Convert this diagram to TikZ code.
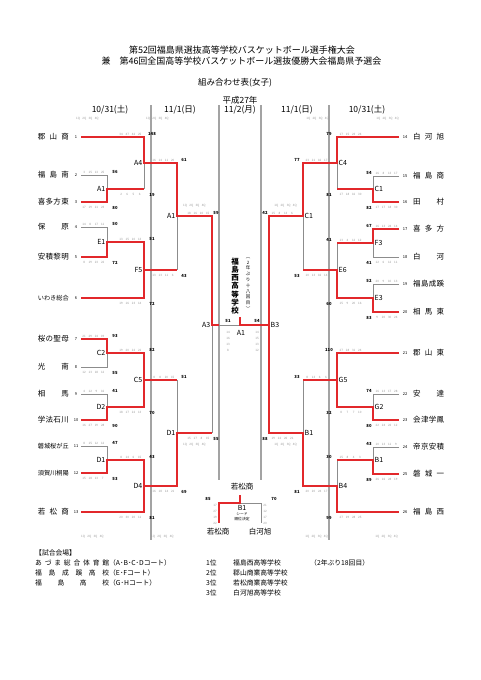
\documentclass[tikz,border=0pt]{standalone}
\usepackage{fontspec}
\setmainfont{Noto Sans CJK JP}
\usetikzlibrary{positioning}
\definecolor{wred}{HTML}{E2282B}
\definecolor{lgray}{HTML}{8C8C8C}
\definecolor{sgray}{HTML}{A3A3A3}
\definecolor{qgray}{HTML}{9A9A9A}
\newcommand\fsz[1]{\fontsize{#1}{#1}\selectfont}
\newcommand\qn[1]{\makebox[6.2pt]{#1}}
\def\qsplit#1 #2 #3 #4\relax{\qn{#1}\qn{#2}\qn{#3}\qn{#4}}
\newcommand\wbox[2][31pt]{\makebox[#1][s]{#2}}
\tikzset{
  win/.style={draw=wred,line width=1.6pt},
  lose/.style={draw=lgray,line width=1pt},
  sep/.style={draw=sgray,line width=1.3pt},
  team/.style={inner sep=0,font=\fsz{7.5}},
  seed/.style={inner sep=0,font=\fsz{4}},
  mlab/.style={inner sep=0,font=\fsz{7}},
  tot/.style={inner sep=0,font=\fsz{4.2}\bfseries},
  qt/.style={inner sep=0,font=\fsz{3},text=qgray},
  hd/.style={inner sep=0,font=\fsz{8.5}},
  lg/.style={inner sep=0,font=\fsz{6.8}}}

\begin{document}
\begin{tikzpicture}[x=1pt,y=-1pt]
\path[fill=white] (0,0) rectangle (481,680);
% titles
\node[font=\fsz{9}] (ttl1) at (242,50) {第52回福島県選抜高等学校バスケットボール選手権大会};
\node[font=\fsz{9}] (ttl2) at (241.5,61) {兼　第46回全国高等学校バスケットボール選抜優勝大会福島県予選会};
\node[font=\fsz{8.5}] (ttl3) at (235,83) {組み合わせ表(女子)};
\node[hd] (era) at (240,100) {平成27年};
\foreach \x/\d [count=\i] in {110/{10/31(土)},180/{11/1(日)},240/{11/2(月)},297/{11/1(日)},367/{10/31(土)}}
  \node[hd] (day\i) at (\x,110) {\d};
% column rules
\draw[sep] (151,105)--(151,540); \draw[sep] (219,105)--(219,480);
\draw[sep] (261,105)--(261,480); \draw[sep] (329,105)--(329,540);
% teams
\foreach \y/\nm [count=\i] in {137/{郡\hfill 山\hfill 商},175/{福\hfill 島\hfill 南},202/{喜\hfill 多\hfill 方\hfill 東},
  227/{保\hfill 原},257/{安\hfill 積\hfill 黎\hfill 明},298/{\fsz{6.2}い\hfill わ\hfill き\hfill 総\hfill 合},
  339/{桜\hfill の\hfill 聖\hfill 母},367/{光\hfill 南},394/{相\hfill 馬},420/{学\hfill 法\hfill 石\hfill 川},
  446/{\fsz{6.2}磐\hfill 城\hfill 桜\hfill が\hfill 丘},473/{\fsz{6.2}須\hfill 賀\hfill 川\hfill 桐\hfill 陽},512/{若\hfill 松\hfill 商}}
  {\node[team,anchor=east] (tl\i) at (69,\y) {\wbox{\nm}};
   \node[seed] (nl\i) at (76,\y) {\i};}
\foreach \y/\nm [count=\i from 14] in {137/{白\hfill 河\hfill 旭},176/{福\hfill 島\hfill 商},202/{田\hfill 村},
  229/{喜\hfill 多\hfill 方},257/{白\hfill 河},284/{福\hfill 島\hfill 成\hfill 蹊},312/{相\hfill 馬\hfill 東},
  353/{郡\hfill 山\hfill 東},394/{安\hfill 達},420/{会\hfill 津\hfill 学\hfill 鳳},447/{帝\hfill 京\hfill 安\hfill 積},
  474/{磐\hfill 城\hfill 一},512/{福\hfill 島\hfill 西}}
  {\node[team,anchor=west] (tr\i) at (413,\y) {\wbox{\nm}};
   \node[seed] (nr\i) at (405,\y) {\i};}
% losing lines
\draw[lose] (81,175)-|(107,189); \draw[lose] (81,227)-|(107,242); \draw[lose] (81,367)-|(107,353);
\draw[lose] (81,394)-|(107,407); \draw[lose] (81,446)-|(107,460);
\draw[lose] (144,163)--(144,189); \draw[lose] (177,216)--(177,270); \draw[lose] (177,380)--(177,433);
\draw[lose] (212,325)--(212,433); \draw[lose] (219,325)--(240,325);
\draw[lose] (399,176)-|(373,189); \draw[lose] (399,257)-|(373,243); \draw[lose] (399,284)-|(373,298);
\draw[lose] (399,394)-|(373,407); \draw[lose] (399,447)-|(373,460);
\draw[lose] (337,163)--(337,189); \draw[lose] (337,243)--(337,270); \draw[lose] (303,216)--(303,270);
\draw[lose] (303,380)--(303,433); \draw[lose] (337,460)--(337,486);
% winning lines
\draw[win] (81,137)--(144,137)--(144,163)--(177,163)--(177,216)--(212,216)--(212,325)--(219,325);
\draw[win] (81,202)-|(107,189)--(144,189);
\draw[win] (81,257)-|(107,242)--(144,242)|-(81,298); \draw[win] (144,270)--(177,270);
\draw[win] (81,339)-|(107,353)--(144,353)--(144,407)--(107,407)|-(81,420); \draw[win] (144,380)--(177,380);
\draw[win] (81,473)-|(107,460)--(144,460)|-(81,512); \draw[win] (144,486)--(177,486)--(177,433)--(212,433);
\draw[win] (399,137)--(337,137)--(337,163)--(303,163)--(303,216)--(269,216)--(269,433)--(303,433)--(303,486)--(337,486)--(337,512)--(399,512);
\draw[win] (240,317)--(240,325)--(269,325);
\draw[win] (399,202)-|(373,189)--(337,189);
\draw[win] (399,229)-|(373,243)--(337,243);
\draw[win] (399,312)-|(373,298)--(337,298)--(337,270)--(303,270);
\draw[win] (399,353)--(337,353)--(337,407)--(373,407)|-(399,420); \draw[win] (337,380)--(303,380);
\draw[win] (399,474)-|(373,460)--(337,460);
% match labels
\foreach \x/\y/\m [count=\i] in {107/189/A1,107/242/E1,107/353/C2,107/407/D2,107/460/D1,144/163/A4,144/270/F5,
  144/380/C5,144/486/D4,177/216/A1,177/433/D1,212/325/A3}
  \node[mlab,anchor=east] (ml\i) at (\x-1.5,\y) {\m};
\foreach \x/\y/\m [count=\i] in {373/189/C1,373/243/F3,373/298/E3,373/407/G2,373/460/B1,337/163/C4,337/270/E6,
  337/380/G5,337/486/B4,303/216/C1,303/433/B1,269/325/B3}
  \node[mlab,anchor=west] (mr\i) at (\x+1.5,\y) {\m};
\node[mlab] (fin) at (241,333) {A1};
% totals
\foreach \x/\y/\s [count=\i] in {115/172/56,115/207.5/80,115/224/50,115/262.5/72,115/336/93,115/372.5/55,
  115/391/41,115/425.5/90,115/443/47,115/478.5/53,152/134/148,152/194.5/19,152/239/51,152/303.5/72,
  152/350/82,152/412.5/70,152/457/43,152/517.5/81,184/160/61,184/275.5/43,184/377/51,184/491.5/69,
  216/213/59,216/438.5/55,228/321/51,257/321/54,
  369/173/54,369/207.5/82,369/226/67,369/262.5/41,369/281/52,369/317.5/83,369/391/74,369/425.5/80,
  369/444/43,369/479.5/89,329/134/79,329/194.5/81,329/240/41,329/303.5/60,329/350/110,329/412.5/32,
  329/457/30,329/517.5/99,297/160/77,297/275.5/53,297/377/33,297/491.5/81,265/213/42,265/438.5/88,
  208/499/85,274/499/70}
  \node[tot] (tot\i) at (\x,\y) {\s};
% quarter scores
\foreach \x/\y/\s [count=\i] in {106/172/3 15 13 25,106/207.5/17 19 21 23,106/224/14 8 17 11,
  106/262.5/8 19 23 22,106/336/21 29 24 19,106/372.5/12 13 18 12,106/391/4 12 9 16,106/425.5/16 27 19 28,
  106/443/8 15 12 12,106/478.5/15 18 13 7,143/134/34 47 42 25,143/194.5/2 6 5 6,143/239/13 15 10 13,
  143/303.5/19 16 23 14,143/350/19 20 22 21,143/412.5/18 17 22 13,143/457/8 14 6 15,143/517.5/20 30 20 11,
  176/160/16 14 11 20,176/275.5/13 13 11 6,176/377/8 8 20 15,176/491.5/16 18 14 21,
  211/213/18 16 10 15,211/438.5/15 17 8 15,
  100/119/1Q 2Q 3Q 4Q,170/119/1Q 2Q 3Q 4Q,207/206/1Q 2Q 3Q 4Q,207/445/1Q 2Q 3Q 4Q,
  105/537/1Q 2Q 3Q 4Q,175/537/1Q 2Q 3Q 4Q}
  \node[qt,anchor=east] (ql\i) at (\x,\y) {\expandafter\qsplit\s\relax};
\foreach \x/\y/\s [count=\i] in {374/173/16 8 13 17,374/207.5/17 17 18 30,374/226/16 13 24 14,
  374/262.5/12 6 12 11,374/281/20 9 10 13,374/317.5/9 20 30 24,374/391/16 13 17 28,374/425.5/22 24 22 12,
  374/444/10 13 11 9,374/479.5/26 16 28 19,338/134/17 15 23 24,338/194.5/17 18 16 30,338/240/13 4 12 12,
  338/303.5/15 9 20 16,338/350/27 28 31 24,338/412.5/8 7 7 10,338/457/15 8 4 3,338/517.5/27 19 28 25,
  304/160/23 21 16 17,304/275.5/10 13 16 14,304/377/8 13 6 6,304/491.5/20 20 24 17,
  270/213/15 8 13 6,270/438.5/19 22 26 21,
  375/119/1Q 2Q 3Q 4Q,305/119/1Q 2Q 3Q 4Q,273/206/1Q 2Q 3Q 4Q,273/445/1Q 2Q 3Q 4Q,
  374/537/1Q 2Q 3Q 4Q,304/537/1Q 2Q 3Q 4Q}
  \node[qt,anchor=west] (qr\i) at (\x,\y) {\expandafter\qsplit\s\relax};
\node[qt,align=center,font=\fontsize{3}{6}\selectfont] (qf1) at (228,341) {14\\16\\13\\8};
\node[qt,align=center,font=\fontsize{3}{6}\selectfont] (qf2) at (257,341) {14\\15\\13\\12};
% champion
\node[inner sep=0,align=center,font=\fontsize{7.5}{8.2}\selectfont\bfseries] (champ) at (235,286) {福\\島\\西\\高\\等\\学\\校};
\node[inner sep=0,align=center,font=\fontsize{4.5}{5.8}\selectfont] (champn) at (248,284) {︵\\2\\年\\ぶ\\り\\十\\八\\回\\目\\︶};
% seed match
\draw[lose] (240,503)-|(261,523);
\draw[win] (240,495)--(240,503)-|(219,523);
\node[team] (sw) at (242,487) {若松商};
\node[mlab] (sb1) at (242,508) {B1};
\node[inner sep=0,align=center,font=\fontsize{3.8}{5}\selectfont] (snote) at (242,517) {シード\\順位決定};
\node[team] (sa) at (218,532) {若松商};
\node[team] (sbb) at (260,532) {白河旭};
\node[qt,align=center,font=\fontsize{3}{6}\selectfont] (qs1) at (215,514) {17\\27\\19\\22};
\node[qt,align=center,font=\fontsize{3}{6}\selectfont] (qs2) at (265,514) {21\\12\\17\\20};
% legend
\node[lg,anchor=west] (venue) at (35,553) {【試合会場】};
\node[lg,anchor=west] (v1) at (35,563) {\wbox[74pt]{あ\hfill づ\hfill ま\hfill 総\hfill 合\hfill 体\hfill 育\hfill 館}（A･B･C･Dコート）};
\node[lg,anchor=west] (v2) at (35,573) {\wbox[74pt]{福\hfill 島\hfill 成\hfill 蹊\hfill 高\hfill 校}（E･Fコート）};
\node[lg,anchor=west] (v3) at (35,583) {\wbox[74pt]{福\hfill 島\hfill 高\hfill 校}（G･Hコート）};
\foreach \y/\r/\nm [count=\i] in {563/1位/福島西高等学校,573/2位/郡山商業高等学校,583/3位/若松商業高等学校,593/3位/白河旭高等学校}
  {\node[lg,anchor=west] (rk\i) at (206,\y) {\r};
   \node[lg,anchor=west] (rn\i) at (233,\y) {\nm};}
\node[lg,anchor=west] (rnote) at (310,563) {（2年ぶり18回目）};
\end{tikzpicture}
\end{document}
